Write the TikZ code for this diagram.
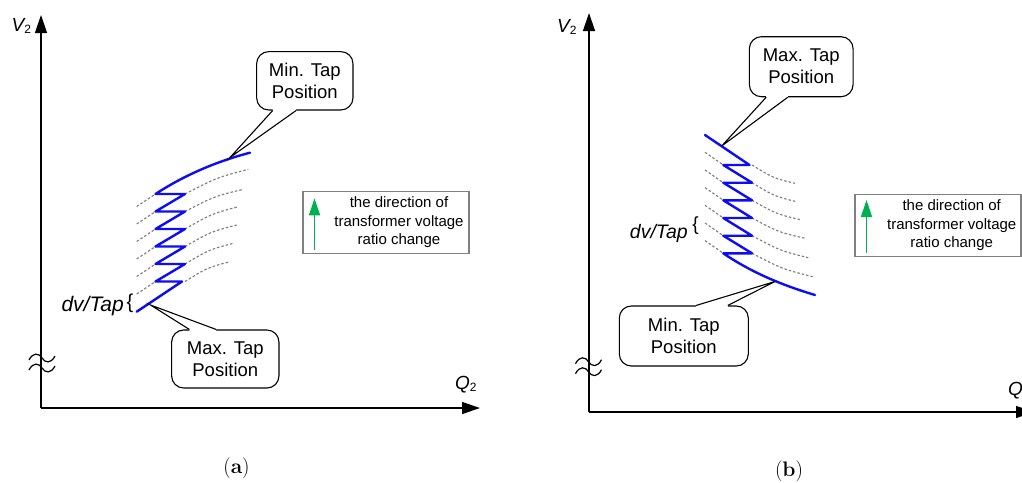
\documentclass[tikz,border=0pt]{standalone}
\usepackage{fontspec}
\newfontfamily\arial{Liberation Sans}
\usetikzlibrary{arrows.meta,calc}
\definecolor{tapblue}{RGB}{12,12,245}
\definecolor{arrgreen}{RGB}{0,176,80}
\definecolor{tapgray}{RGB}{128,128,128}
\newcommand\pointer[4]{%
  \fill[white] ($(#1)+#4$) -- (#1) -- (#3) -- (#2) -- ($(#2)+#4$) -- cycle;
  \draw[line width=1.1pt,line join=miter] (#1) -- (#3) -- (#2);}
\newcommand\breakmark[2]{%
  \foreach \dy in {-5,5}{%
    \draw[line width=1.2pt] (#1-13,#2+\dy+2) .. controls (#1-9,#2+\dy-6) and (#1-3,#2+\dy-5) .. (#1,#2+\dy)
      .. controls (#1+3,#2+\dy+5) and (#1+9,#2+\dy+6) .. (#1+13,#2+\dy-2);}}
\begin{document}
\begin{tikzpicture}[x=1pt,y=-1pt,
  axis/.style={line width=1.3pt,-{Triangle[length=18pt,width=12pt]}},
  blueline/.style={draw=tapblue,line width=2.4pt,line join=round,line cap=round},
  tap/.style={draw=tapgray,line width=1.15pt,dash pattern=on 2.5pt off 2pt},
  callout/.style={draw,line width=1.1pt,rounded corners=12pt,fill=white,
    font=\arial\fontsize{18.5}{22}\selectfont,align=center,inner sep=0pt},
  legendbox/.style={draw=tapgray,line width=1.5pt,minimum width=166pt,minimum height=62pt,inner sep=0pt},
  legendtext/.style={font=\arial\fontsize{15}{18.5}\selectfont,align=center,inner sep=0pt},
  greenarrow/.style={draw=arrgreen,fill=arrgreen,line width=1.5pt,-{Triangle[length=17pt,width=11pt]}},
  axlabel/.style={font=\arial\fontsize{19}{22}\selectfont,inner sep=0pt,anchor=base west},
  dvlabel/.style={inner sep=0pt,anchor=base east},
  brace/.style={inner sep=0pt},
  caption/.style={font=\fontsize{21}{24}\selectfont,inner sep=0pt}]
\useasboundingbox (0,0) rectangle (1022,482);
\clip (0,0) rectangle (1022,482);

% ================= (a) =================
\coordinate (oa) at (41,408);
\coordinate (ya) at (41,15);
\coordinate (xa) at (480,408);
\draw[axis] (oa) -- (ya);
\draw[axis] (oa) -- (xa);
\node[axlabel] (v2a) at (11.5,31.7) {\itshape V\upshape\raisebox{-2pt}{\fontsize{12}{12}\selectfont 2}};
\node[axlabel] (q2a) at (455,389.3) {\itshape Q\upshape\raisebox{-2pt}{\fontsize{12}{12}\selectfont 2}};
\breakmark{42}{363}

% dashed tap curves (a)
\foreach \v/\ex/\ey in {194/248.3/169.3, 211.5/243.3/189.3, 229/238.3/206.7,
                        246.5/236.7/225, 264/233.3/243.3, 281.5/230/261.7}{
  \draw[tap] (136.7,\v+12.5) -- (155.5,\v);
  \draw[tap] (185,\v) .. controls ($(185,\v)!0.5!(\ex,\ey)+(0,-4)$) .. (\ex,\ey);
}
% blue zigzag (a)
\draw[blueline] (136.7,311.7) -- (182,281.5) -- (155.5,281.5) -- (185,264) -- (155.5,264)
  -- (185,246.5) -- (155.5,246.5) -- (185,229) -- (155.5,229) -- (185,211.5) -- (155.5,211.5)
  -- (185,194) -- (155.5,194) .. controls (186.5,173.8) and (219,160.8) .. (250,152.7);

\node[dvlabel,font=\arial\fontsize{21}{24}\selectfont\itshape] (dva) at (124,311) {dv/Tap};
\node[brace,font=\arial\fontsize{20}{24}\selectfont] (bra) at (130,303) {\{};

% callouts (a)
\node[callout,minimum width=96.3pt,minimum height=58.3pt] (mina) at (304.8,80.8) {Min. Tap\\Position};
\coordinate (mina-b1) at ($(mina.south west)+(16.6,0)$);
\coordinate (mina-b2) at ($(mina.south west)+(40,0)$);
\coordinate (tipa1) at (230,157.5);
\pointer{mina-b1}{mina-b2}{tipa1}{(0,-1.5)}

\node[callout,minimum width=107.3pt,minimum height=58pt] (maxa) at (225.3,359) {Max. Tap\\Position};
\coordinate (maxa-b1) at ($(maxa.north west)+(18.3,0)$);
\coordinate (maxa-b2) at ($(maxa.north west)+(45,0)$);
\coordinate (tipa2) at (150.5,305);
\pointer{maxa-b1}{maxa-b2}{tipa2}{(0,1.5)}

% legend (a)
\node[legendbox] (lega) at (385.9,222.5) {};
\coordinate (gaa) at (314.5,250);
\coordinate (gab) at (314.5,198.3);
\draw[greenarrow] (gaa) -- (gab);
\node[legendtext] (lta) at (399,222.5) {the direction of\\transformer voltage\\ratio change};

\node[caption] (capa) at (236.5,468.3) {(\textbf{a})};

% ================= (b) =================
\coordinate (ob) at (589,412);
\coordinate (yb) at (589,13);
\coordinate (xb) at (1034,412);
\draw[axis] (ob) -- (yb);
\draw[axis] (ob) -- (xb);
\node[axlabel] (v2b) at (557,32) {\itshape V\upshape\raisebox{-2pt}{\fontsize{12}{12}\selectfont 2}};
\node[axlabel] (q2b) at (1008,395) {\itshape Q\upshape\raisebox{-2pt}{\fontsize{12}{12}\selectfont 2}};
\breakmark{588.5}{366.7}

% dashed tap curves (b)
\foreach \v/\ex/\ey in {165/795/183.3, 182.7/796.7/201.7, 200.3/801.7/220,
                        218/805/238.3, 235.7/808.3/257.7, 253.3/812.7/276.7}{
  \draw[tap] (705,\v-12.7) -- (723.3,\v);
  \draw[tap] (752,\v) .. controls ($(752,\v)!0.5!(\ex,\ey)+(0,4)$) .. (\ex,\ey);
}
% blue zigzag (b)
\draw[blueline] (705,135) -- (749.5,165) -- (723.3,165) -- (752,182.7) -- (723.3,182.7)
  -- (752,200.3) -- (723.3,200.3) -- (752,218) -- (723.3,218) -- (752,235.7) -- (723.3,235.7)
  -- (752,253.3) -- (723.3,253.3) .. controls (753.3,273.7) and (785,286) .. (815,295);

\node[dvlabel,font=\arial\fontsize{19.5}{24}\selectfont\itshape] (dvb) at (688,238.3) {dv/Tap};
\node[brace,font=\arial\fontsize{19}{24}\selectfont] (brb) at (695.5,225.8) {\{};

% callouts (b)
\node[callout,minimum width=103.7pt,minimum height=60pt] (maxb) at (801.2,66.7) {Max. Tap\\Position};
\coordinate (maxb-b1) at ($(maxb.south west)+(17.4,0)$);
\coordinate (maxb-b2) at ($(maxb.south west)+(39,0)$);
\coordinate (tipb1) at (721.7,146);
\pointer{maxb-b1}{maxb-b2}{tipb1}{(0,-1.5)}

\node[callout,minimum width=129pt,minimum height=60pt] (minb) at (683.8,336) {Min. Tap\\Position};
\coordinate (minb-b1) at ($(minb.north west)+(77.4,0)$);
\coordinate (minb-b2) at ($(minb.north west)+(109,0)$);
\coordinate (tipb2) at (775,281.5);
\pointer{minb-b1}{minb-b2}{tipb2}{(0,1.5)}

% legend (b)
\node[legendbox] (legb) at (938,225.3) {};
\coordinate (gba) at (866.5,252.7);
\coordinate (gbb) at (866.5,200);
\draw[greenarrow] (gba) -- (gbb);
\node[legendtext] (ltb) at (951.7,225.3) {the direction of\\transformer voltage\\ratio change};

\node[caption] (capb) at (789,471.7) {(\textbf{b})};
\end{tikzpicture}
\end{document}
